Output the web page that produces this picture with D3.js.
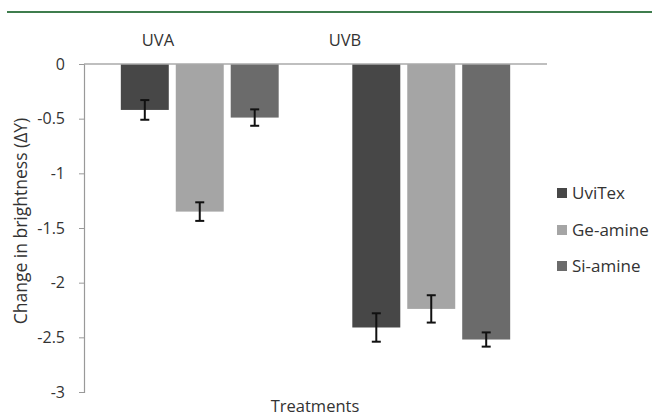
<!DOCTYPE html>
<html>
<head>
<meta charset="utf-8">
<script src="https://cdn.jsdelivr.net/npm/d3@7"></script>
<style>
  body { margin: 0; background: #fff; }
  svg text { font-family: "Open Sans", "Liberation Sans", sans-serif; fill: #333; }
</style>
</head>
<body>
<svg id="chart" width="652" height="416"></svg>
<script>
// chart data
var groups = ["UVA", "UVB"];
var series = ["UviTex", "Ge-amine", "Si-amine"];
var colors = ["#474747", "#a5a5a5", "#6b6b6b"];
// mean change per series, in the order of groups
var uvitexVals = [-0.42, -2.41];
var geamineVals = [-1.35, -2.24];
var siamineVals = [-0.49, -2.52];
// error bar half widths
var uvitexErr = [0.09, 0.13];
var geamineErr = [0.085, 0.125];
var siamineErr = [0.075, 0.065];
var yTicks = [0, -0.5, -1, -1.5, -2, -2.5, -3];

var values = [uvitexVals, geamineVals, siamineVals];
var errors = [uvitexErr, geamineErr, siamineErr];

var svg = d3.select("#chart");
var margin = {top: 64, left: 84, right: 105, bottom: 24};
var width = 652 - margin.left - margin.right;
var plotBottom = 416 - margin.bottom;

// green rule at the top of the figure
svg.append("rect")
    .attr("x", 7).attr("y", 11)
    .attr("width", 645).attr("height", 2)
    .attr("fill", "#3f7d4e");

var x0 = d3.scaleBand().domain(groups)
    .range([margin.left, margin.left + width]);
var x1 = d3.scaleBand().domain(series)
    .range([0, x0.bandwidth()])
    .paddingInner(0.127).paddingOuter(0.67);
var y = d3.scaleLinear().domain([0, -3]).range([margin.top, plotBottom]);

// y axis (plain hyphen minus like the original)
var yAxis = svg.append("g")
    .attr("transform", "translate(" + margin.left + ",0)")
    .call(d3.axisLeft(y).tickValues(yTicks).tickSize(5).tickPadding(14)
        .tickFormat(function(d){ return String(d); }));
yAxis.select(".domain").attr("stroke", "#999").attr("stroke-width", 1.2);
yAxis.selectAll(".tick line").attr("stroke", "#999");
yAxis.selectAll(".tick text")
    .attr("font-size", 16)
    .style("font-family", "Open Sans, sans-serif")
    .attr("fill", "#2a2a2a");

// bars
var barData = [];
series.forEach(function(s, si){
    groups.forEach(function(g, gi){
        barData.push({group: g, series: s, idx: si, value: values[si][gi], err: errors[si][gi]});
    });
});

svg.selectAll("rect.bar").data(barData).enter().append("rect")
    .attr("class", "bar")
    .attr("x", function(d){ return x0(d.group) + x1(d.series); })
    .attr("width", x1.bandwidth())
    .attr("y", y(0))
    .attr("height", function(d){ return y(d.value) - y(0); })
    .attr("fill", function(d){ return colors[d.idx]; });

// zero line over the bars
svg.append("line")
    .attr("x1", margin.left).attr("x2", margin.left + width)
    .attr("y1", y(0)).attr("y2", y(0))
    .attr("stroke", "#aaa").attr("stroke-width", 1.5);

// error bars
var eb = svg.selectAll("g.err").data(barData).enter().append("g")
    .attr("class", "err")
    .attr("stroke", "#111").attr("stroke-width", 2);
eb.append("line")
    .attr("x1", function(d){ return x0(d.group) + x1(d.series) + x1.bandwidth() / 2; })
    .attr("x2", function(d){ return x0(d.group) + x1(d.series) + x1.bandwidth() / 2; })
    .attr("y1", function(d){ return y(d.value + d.err); })
    .attr("y2", function(d){ return y(d.value - d.err); });
[1, -1].forEach(function(sign){
    eb.append("line")
        .attr("x1", function(d){ return x0(d.group) + x1(d.series) + x1.bandwidth() / 2 - 4.5; })
        .attr("x2", function(d){ return x0(d.group) + x1(d.series) + x1.bandwidth() / 2 + 4.5; })
        .attr("y1", function(d){ return y(d.value + sign * d.err); })
        .attr("y2", function(d){ return y(d.value + sign * d.err); });
});

// group labels on top
var groupLabelX = [158, 345];
svg.selectAll("text.glabel").data(groups).enter().append("text")
    .attr("class", "glabel")
    .attr("x", function(d, i){ return groupLabelX[i]; })
    .attr("y", 46)
    .attr("text-anchor", "middle")
    .attr("font-size", 16.5)
    .text(function(d){ return d; });

// axis titles
svg.append("text")
    .attr("x", 315).attr("y", 412)
    .attr("text-anchor", "middle")
    .attr("font-size", 16.5)
    .text("Treatments");
svg.append("text")
    .attr("transform", "translate(27,221) rotate(-90)")
    .attr("text-anchor", "middle")
    .attr("font-size", 17.5)
    .text("Change in brightness (ΔY)");

// legend
var legendY = [193, 230, 266];
var leg = svg.selectAll("g.legend").data(series).enter().append("g")
    .attr("class", "legend")
    .attr("transform", function(d, i){ return "translate(557," + legendY[i] + ")"; });
leg.append("rect")
    .attr("x", 0).attr("y", -5)
    .attr("width", 10).attr("height", 10)
    .attr("fill", function(d, i){ return colors[i]; });
leg.append("text")
    .attr("x", 15).attr("y", 6)
    .attr("font-size", 17)
    .text(function(d){ return d; });
</script>
</body>
</html>
